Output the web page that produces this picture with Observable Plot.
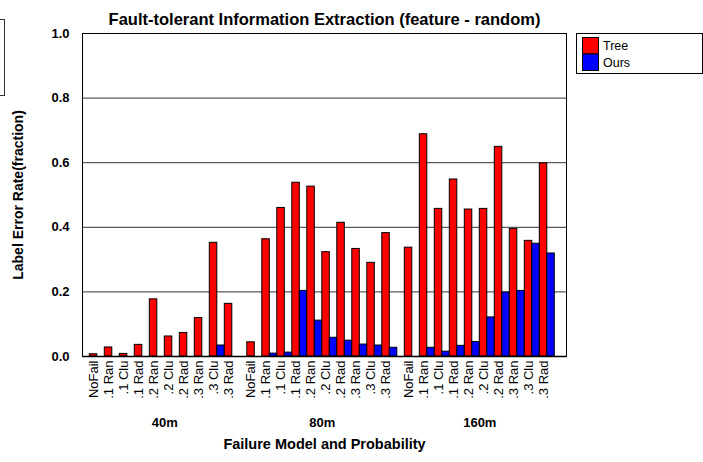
<!DOCTYPE html>
<html>
<head>
<meta charset="utf-8">
<script src="https://cdn.jsdelivr.net/npm/d3@7"></script>
<script src="https://cdn.jsdelivr.net/npm/@observablehq/plot@0.6"></script>
<style>
  html, body { margin: 0; padding: 0; background: white; }
  #chart { width: 703px; height: 462px; overflow: hidden; }
</style>
</head>
<body>
<div id="chart"></div>
<script>
const title = "Fault-tolerant Information Extraction (feature - random)";
const yLabel = "Label Error Rate(fraction)";
const xLabel = "Failure Model and Probability";
const groups = ["40m", "80m", "160m"];
const categories = ["NoFail", ".1 Ran", ".1 Clu", ".1 Rad", ".2 Ran", ".2 Clu", ".2 Rad", ".3 Ran", ".3 Clu", ".3 Rad"];
const series = ["Tree", "Ours"];
const colors = ["#ff0000", "#0000ff"];
const yTicks = [0, 0.2, 0.4, 0.6, 0.8, 1.0];

const tree40  = [0.007, 0.028, 0.008, 0.036, 0.177, 0.062, 0.073, 0.119, 0.352, 0.163];
const ours40  = [0, 0, 0, 0, 0, 0, 0, 0, 0.034, 0];
const tree80  = [0.044, 0.363, 0.460, 0.538, 0.526, 0.323, 0.414, 0.333, 0.290, 0.382];
const ours80  = [0, 0.009, 0.012, 0.203, 0.111, 0.058, 0.049, 0.037, 0.034, 0.027];
const tree160 = [0.337, 0.688, 0.457, 0.548, 0.455, 0.457, 0.649, 0.395, 0.358, 0.598];
const ours160 = [0, 0.027, 0.015, 0.033, 0.045, 0.121, 0.198, 0.203, 0.349, 0.319];

const valuesByGroup = {
  "40m":  {Tree: tree40,  Ours: ours40},
  "80m":  {Tree: tree80,  Ours: ours80},
  "160m": {Tree: tree160, Ours: ours160}
};

const keyOf = (g, c, s) => `${g}|${c}|${s}`;
const rows = [];
const xDomain = [];
groups.forEach((g, gi) => {
  categories.forEach((c, ci) => {
    series.forEach(s => {
      const key = keyOf(g, c, s);
      xDomain.push(key);
      rows.push({group: g, category: c, series: s, value: valuesByGroup[g][s][ci], key});
    });
  });
  if (gi < groups.length - 1) xDomain.push(`gap${gi}`);
});
const treeRows = rows.filter(d => d.series === "Tree");
const groupRows = groups.map(g => ({group: g, key: keyOf(g, categories[5], "Tree")}));

const font = "'Liberation Sans', Arial, Helvetica, sans-serif";

const chart = Plot.plot({
  width: 703,
  height: 462,
  marginTop: 33,
  marginBottom: 106,
  marginLeft: 82,
  marginRight: 137,
  style: {fontFamily: font, background: "white", overflow: "visible", color: "black"},
  x: {type: "band", domain: xDomain, paddingInner: 0, paddingOuter: 1.267, align: 0.384, axis: null},
  y: {domain: [0, 1], axis: null},
  color: {domain: series, range: colors},
  marks: [
    Plot.ruleY(yTicks.slice(1), {stroke: "#333", strokeWidth: 1}),
    Plot.barY(rows, {x: "key", y: "value", fill: "series", stroke: "black", strokeWidth: 1}),
    Plot.frame({stroke: "black"}),
    Plot.ruleY([0], {stroke: "black", strokeWidth: 1.5}),
    Plot.text(yTicks, {y: d => d, text: d => d.toFixed(1), frameAnchor: "left", textAnchor: "end", dx: -13, fontWeight: "bold", fontSize: 13, fill: "black"}),
    Plot.text(treeRows, {x: "key", y: () => 0, text: "category", rotate: -90, textAnchor: "end", dy: 4, fontSize: 13, fill: "black"}),
    Plot.text(groupRows, {x: "key", y: () => 0, text: "group", dx: -3.75, dy: 66, fontWeight: "bold", fontSize: 13, fill: "black"}),
    Plot.text([title], {text: d => d, frameAnchor: "top", textAnchor: "middle", dy: -20, fontWeight: "bold", fontSize: 16.5, fill: "black"}),
    Plot.text([yLabel], {text: d => d, frameAnchor: "left", textAnchor: "middle", rotate: -90, dx: -64, fontWeight: "bold", fontSize: 14, fill: "black"}),
    Plot.text([xLabel], {text: d => d, frameAnchor: "bottom", textAnchor: "middle", dy: 92, fontWeight: "bold", fontSize: 14.5, fill: "black"})
  ]
});

document.getElementById("chart").appendChild(chart);

// Legend box (drawn with the plot's color scale)
const color = chart.scale("color");
const svg = d3.select(chart);
const lg = svg.append("g").attr("font-family", font).attr("font-size", 12.5).attr("text-anchor", "start");
lg.append("rect").attr("x", 576.5).attr("y", 33.5).attr("width", 126).attr("height", 40)
  .attr("fill", "white").attr("stroke", "black");
series.forEach((s, i) => {
  lg.append("rect").attr("x", 582.5).attr("y", 37.5 + i * 16.5).attr("width", 16).attr("height", 16.5)
    .attr("fill", color.apply(s)).attr("stroke", "black");
  lg.append("text").attr("x", 603).attr("y", 46 + i * 16.5).attr("dy", "0.35em")
    .attr("text-anchor", "start").attr("fill", "black").text(s);
});
// partial box at the left edge
svg.append("rect").attr("x", -20).attr("y", 19.5).attr("width", 24.5).attr("height", 76)
  .attr("fill", "none").attr("stroke", "#333");
</script>
</body>
</html>
